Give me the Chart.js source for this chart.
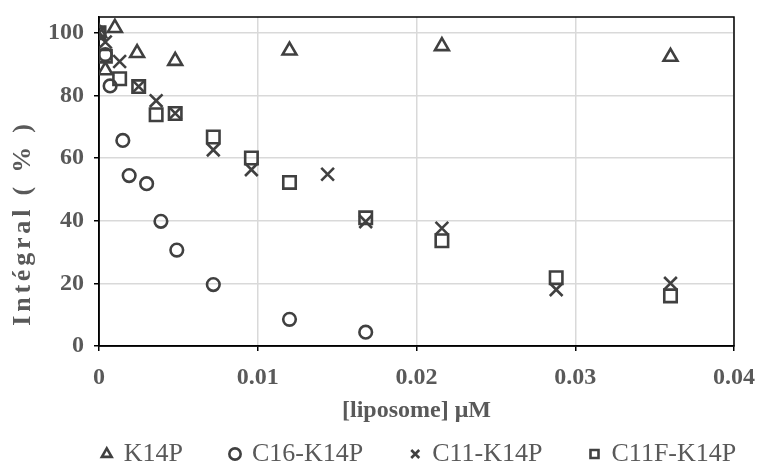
<!DOCTYPE html>
<html>
<head>
<meta charset="utf-8">
<script src="https://cdn.jsdelivr.net/npm/chart.js@4.4.0/dist/chart.umd.min.js"></script>
<style>
	html, body { margin: 0; padding: 0; background: #fff; }
</style>
</head>
<body>
<canvas id="integralChart" width="767" height="466"></canvas>
<script>
// tick values
var xTicks = [0, 0.01, 0.02, 0.03, 0.04];
var yTicks = [0, 20, 40, 60, 80, 100];

// K14P (triangles)
var k14pX = [0, 0.0004, 0.001, 0.0024, 0.0048, 0.012, 0.0216, 0.036];
var k14pY = [100, 88, 101.5, 93.5, 91, 94.3, 95.7, 92.3];

// C16-K14P (circles)
var c16X = [0, 0.0004, 0.0007, 0.0015, 0.0019, 0.003, 0.0039, 0.0049, 0.0072, 0.012, 0.0168];
var c16Y = [100, 93, 83, 65.6, 54.4, 51.8, 39.8, 30.6, 19.6, 8.5, 4.4];

// C11-K14P (crosses)
var c11X = [0, 0.0004, 0.0013, 0.0025, 0.0036, 0.0048, 0.0072, 0.0096, 0.0144, 0.0168, 0.0216, 0.0288, 0.036];
var c11Y = [100, 97, 90.8, 82.8, 78.3, 74.3, 62.6, 56.3, 54.8, 39.7, 37.6, 18, 20];

// C11F-K14P (squares)
var c11fX = [0, 0.0004, 0.0013, 0.0025, 0.0036, 0.0048, 0.0072, 0.0096, 0.012, 0.0168, 0.0216, 0.0288, 0.036];
var c11fY = [100, 92.5, 85.3, 82.8, 73.8, 74.2, 66.7, 60, 52.2, 40.9, 33.6, 21.8, 16];

var yTitle = 'Intégral ( % )';
var xTitle = '[liposome] μM';

var markColor = '#404040';
var textColor = '#595959';
var serif = '"Liberation Serif", "Times New Roman", serif';

function toPoints(xs, ys){
	var pts = [];
	for (var i = 0; i < xs.length; i++){
		pts.push({x: xs[i], y: ys[i]});
	}
	return pts;
}

function series(label, xs, ys, style, radius){
	return {
		label: label,
		data: toPoints(xs, ys),
		pointStyle: style,
		pointRadius: radius,
		pointBorderWidth: 2.6,
		pointBorderColor: markColor,
		pointBackgroundColor: 'transparent',
		borderColor: markColor,
		backgroundColor: 'transparent',
		showLine: false
	};
}

// black frame round the plot area
var plotBorder = {
	id: 'plotBorder',
	beforeDatasetsDraw: function(chart){
		var a = chart.chartArea, ctx = chart.ctx;
		ctx.save();
		ctx.strokeStyle = '#000';
		ctx.lineWidth = 1.5;
		ctx.strokeRect(a.left, a.top, a.right - a.left, a.bottom - a.top);
		ctx.restore();
	}
};

// y title is spaced out in the original, so it is drawn here
var yTitlePlugin = {
	id: 'yTitle',
	afterDraw: function(chart){
		var ctx = chart.ctx;
		ctx.save();
		ctx.translate(23, 223);
		ctx.rotate(-Math.PI / 2);
		ctx.font = 'bold 26px ' + serif;
		try { ctx.letterSpacing = '3.8px'; } catch (e) {}
		ctx.fillStyle = textColor;
		ctx.textAlign = 'center';
		ctx.textBaseline = 'middle';
		ctx.fillText(yTitle, 0, 0);
		ctx.restore();
	}
};

var tickFont = {family: serif, size: 24, weight: 'bold'};

var chart = new Chart(document.getElementById('integralChart'), {
	type: 'scatter',
	data: {
		datasets: [
			series('K14P', k14pX, k14pY, 'triangle', 8),
			series('C16-K14P', c16X, c16Y, 'circle', 6.3),
			series('C11-K14P', c11X, c11Y, 'crossRot', 9),
			series('C11F-K14P', c11fX, c11fY, 'rect', 8.8)
		]
	},
	options: {
		responsive: false,
		animation: false,
		events: [],
		layout: { padding: { left: 40, right: -32, top: 17, bottom: -11 } },
		plugins: {
			legend: {
				position: 'bottom',
				align: 'center',
				labels: {
					usePointStyle: true,
					boxWidth: 8,
					boxHeight: 8,
					padding: 48,
					color: textColor,
					font: {family: serif, size: 26}
				}
			},
			tooltip: { enabled: false }
		},
		scales: {
			x: {
				type: 'linear',
				min: 0,
				max: 0.04,
				afterBuildTicks: function(s){ s.ticks = xTicks.map(function(v){ return {value: v}; }); },
				afterFit: function(s){ s.height = 47; },
				ticks: {
					color: textColor,
					font: tickFont,
					padding: 12,
					callback: function(v){ return String(v); }
				},
				grid: { color: '#d9d9d9', lineWidth: 1.5, tickColor: '#000', tickLength: 5, tickWidth: 1.5 },
				border: { color: '#000', width: 1.5 },
				title: {
					display: true,
					text: xTitle,
					color: textColor,
					font: {family: serif, size: 24, weight: 'bold'},
					padding: {top: 0, bottom: -32}
				}
			},
			y: {
				type: 'linear',
				min: 0,
				max: 105,
				afterBuildTicks: function(s){ s.ticks = yTicks.map(function(v){ return {value: v}; }); },
				afterFit: function(s){ s.width = 59; s.paddingTop = 0; s.paddingBottom = 0; },
				ticks: { color: textColor, font: tickFont, padding: 10 },
				grid: { color: '#d9d9d9', lineWidth: 1.5, tickColor: '#000', tickLength: 5, tickWidth: 1.5 },
				border: { color: '#000', width: 1.5 }
			},
			yRight: {
				type: 'linear',
				position: 'right',
				afterFit: function(s){ s.width = 60; s.paddingTop = 0; s.paddingBottom = 0; },
				ticks: { display: false },
				grid: { display: false, drawTicks: false },
				border: { display: false }
			}
		}
	},
	plugins: [plotBorder, yTitlePlugin]
});
</script>
</body>
</html>
